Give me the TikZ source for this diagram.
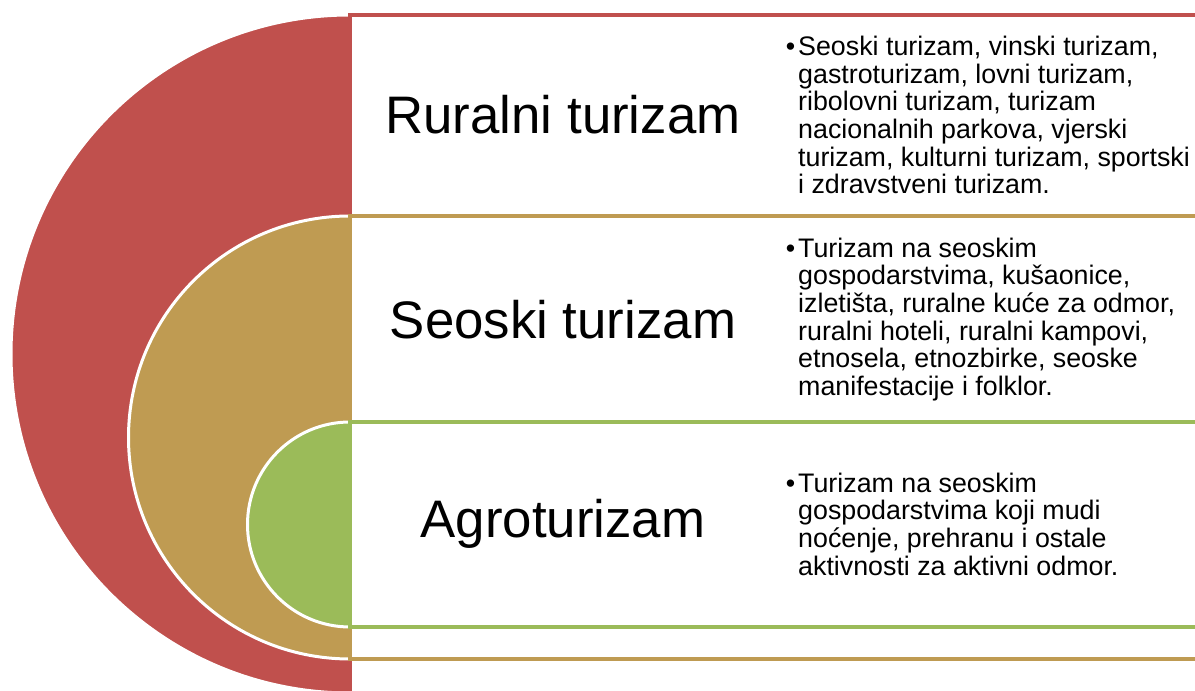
\documentclass[tikz,border=0pt]{standalone}
\usepackage{fontspec}
\setmainfont{Liberation Sans}
\usetikzlibrary{positioning}
\definecolor{ruralred}{HTML}{C0504D}
\definecolor{seoskitan}{HTML}{BF9B52}
\definecolor{agrogreen}{HTML}{9BBB59}
\tikzset{disc node/.style={draw=white,line width=3pt},
band node/.style={fill=white,line width=4pt},
title node/.style={font=\fontsize{52.8}{60}\selectfont,inner sep=0pt},
list node/.style={font=\fontsize{26.8}{27.7}\selectfont,align=left,inner sep=0pt},
}

\begin{document}
\begin{tikzpicture}[x=1pt,y=1pt,node distance = 235pt]
	\useasboundingbox (0,0) rectangle (1195,691);
	\clip (0,0) rectangle (1195,691);
	
	% outer band
	\filldraw[disc node,fill=ruralred] (350,676) arc[start angle=90,end angle=270,radius=339] -- cycle;
	\draw[band node,draw=ruralred] (350,676) rectangle (1215,-2);
	% middle band
	\filldraw[disc node,fill=seoskitan] (350,475) arc[start angle=90,end angle=270,radius=221.5] -- cycle;
	\draw[band node,draw=seoskitan] (350,475) rectangle (1215,32);
	% inner band
	\filldraw[disc node,fill=agrogreen] (350,269) arc[start angle=90,end angle=270,radius=102.5] -- cycle;
	\draw[band node,draw=agrogreen] (350,269) rectangle (1215,64);
	
	\node[title node] (rural) at (563,576) {Ruralni turizam};
	\node[title node] (seoski) at (563,371.5) {Seoski turizam};
	\node[title node] (agro) at (563,167) {Agroturizam};
	
	\node[list node] (ruralList)[right = of rural.center]
	{\llap{•\hspace{3pt}}Seoski turizam, vinski turizam,\\
	gastroturizam, lovni turizam,\\
	ribolovni turizam, turizam\\
	nacionalnih parkova, vjerski\\
	turizam, kulturni turizam, sportski\\
	i zdravstveni turizam.};
	\node[list node] (seoskiList)[right = of seoski.center]
	{\llap{•\hspace{3pt}}Turizam na seoskim\\
	gospodarstvima, kušaonice,\\
	izletišta, ruralne kuće za odmor,\\
	ruralni hoteli, ruralni kampovi,\\
	etnosela, etnozbirke, seoske\\
	manifestacije i folklor.};
	\node[list node] (agroList)[right = of agro.center]
	{\llap{•\hspace{3pt}}Turizam na seoskim\\
	gospodarstvima koji mudi\\
	noćenje, prehranu i ostale\\
	aktivnosti za aktivni odmor.};
\end{tikzpicture}
\end{document}
